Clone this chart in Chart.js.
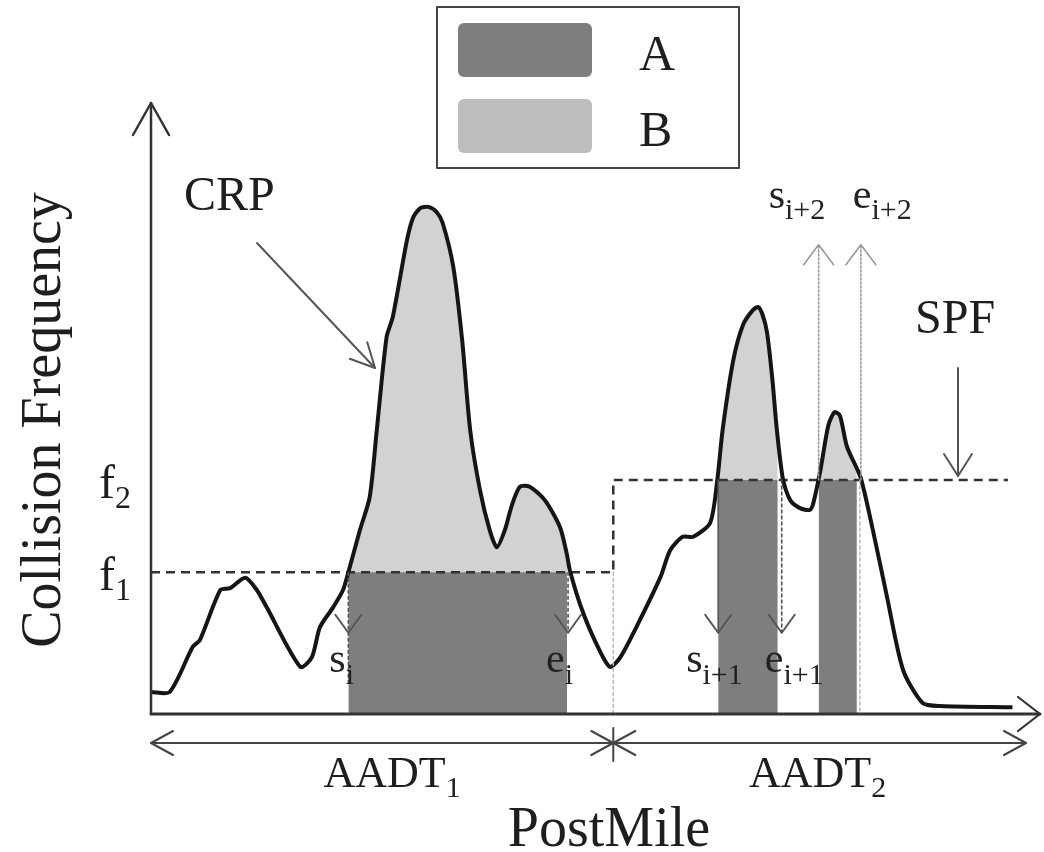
<!DOCTYPE html>
<html>
<head>
<meta charset="utf-8">
<script src="https://cdn.jsdelivr.net/npm/chart.js@4.4.1/dist/chart.umd.min.js"></script>
<style>
  body { margin: 0; background: #fff; }
  #wrap { width: 1044px; height: 852px; position: relative; }
</style>
</head>
<body>
<div id="wrap"><canvas id="crpChart"></canvas></div>
<script>
// collision rate profile (CRP)
const postMile = [0, 2.1, 4.7, 5.5, 7.8, 8.9, 10.6, 11.9, 13.0, 16.8, 18.1, 19.0, 20.5, 21.6, 22.2, 23.5, 24.6, 25.4,
  26.5, 27.2, 28.8, 29.5, 30.3, 31.2, 32.1, 32.8, 34.0, 35.0, 35.9, 37.0, 38.1, 38.9, 39.8, 40.6, 41.5, 42.6, 44.3,
  46.0, 46.8, 47.1, 48.3, 49.9, 51.6, 52.8, 55.0, 57.3, 58.4, 59.8, 61.0, 62.9, 63.7, 64.3, 65.5, 66.6, 67.7, 68.3,
  68.8, 69.3, 69.9, 70.4, 71.1, 71.9, 73.0, 74.1, 74.5, 75.3, 76.2, 76.9, 77.5, 78.3, 79.8, 81.2, 82.8, 84.6, 86.8,
  88.8, 96.9];
const collisions = [3.6, 3.6, 11.0, 12.1, 20.3, 20.6, 22.3, 20.3, 17.5, 7.7, 9.3, 14.2, 17.5, 20.3, 23.2, 30.1, 35.5, 46.5,
  61.7, 65.0, 77.6, 81.3, 82.8, 83.0, 82.2, 80.4, 73.2, 61.2, 46.5, 36.7, 30.1, 27.3, 30.1, 34.2, 37.2, 37.2, 35.0,
  30.6, 26.0, 23.6, 17.8, 12.1, 7.7, 9.3, 15.4, 22.4, 26.8, 29.0, 29.0, 31.3, 38.3, 46.5, 57.9, 63.7, 66.1, 66.6,
  65.3, 62.4, 54.7, 46.5, 38.3, 35.0, 33.7, 33.4, 34.5, 39.9, 47.3, 49.4, 48.8, 43.7, 38.8, 30.1, 19.1, 7.2, 1.8,
  1.3, 1.1];

// safety performance function (step at the AADT change)
const spfMile = [0, 52.0, 96.4];
const spfLevel = [23.2, 38.3, 38.3];

// hot spot segments: start s, end e, threshold f
const hotStart = [22.2, 63.8, 75.1];
const hotEnd = [46.8, 70.5, 79.4];
const hotLevel = [23.2, 38.3, 38.3];
const hotSub = ['i', 'i+1', 'i+2'];

const legendLabels = ['A', 'B'];
const levelLabels = ['1', '2'];
const aadtLabels = ['1', '2'];

const serif = '"Liberation Serif", "DejaVu Serif", serif';
const darkGray = '#7e7e7e';
const lightGray = '#d2d2d2';

function curveAt(x) {
  for (let i = 1; i < postMile.length; i++) {
    if (x <= postMile[i]) {
      const t = (x - postMile[i - 1]) / (postMile[i] - postMile[i - 1]);
      return collisions[i - 1] + t * (collisions[i] - collisions[i - 1]);
    }
  }
  return collisions[collisions.length - 1];
}

function sliceCurve(x0, x1) {
  const pts = [{ x: x0, y: curveAt(x0) }];
  postMile.forEach((x, i) => {
    if (x > x0 && x < x1) pts.push({ x: x, y: collisions[i] });
  });
  pts.push({ x: x1, y: curveAt(x1) });
  return pts;
}

const datasets = [
  {
    label: 'CRP',
    data: postMile.map((x, i) => ({ x: x, y: collisions[i] })),
    borderColor: '#151515',
    borderWidth: 4,
    tension: 0.25,
    pointRadius: 0,
    fill: false,
    order: 0,
    clip: 6,
  },
  {
    label: 'SPF',
    data: spfMile.map((x, i) => ({ x: x, y: spfLevel[i] })),
    borderColor: '#333',
    borderWidth: 2.5,
    borderDash: [9, 6],
    stepped: 'before',
    pointRadius: 0,
    fill: false,
    order: 1,
  },
];

hotStart.forEach((s, i) => {
  // A: part below the threshold
  datasets.push({
    label: 'A' + i,
    data: [{ x: s, y: hotLevel[i] }, { x: hotEnd[i], y: hotLevel[i] }],
    borderWidth: 0,
    pointRadius: 0,
    backgroundColor: darkGray,
    fill: 'origin',
    order: 2,
  });
  // B: part of the profile above the threshold
  datasets.push({
    label: 'B' + i,
    data: sliceCurve(s, hotEnd[i]),
    borderWidth: 0,
    pointRadius: 0,
    tension: 0.25,
    backgroundColor: lightGray,
    fill: { value: hotLevel[i] },
    order: 3,
  });
});

function arrowHead(ctx, x, y, angle, len, half) {
  const bx = x - len * Math.cos(angle);
  const by = y - len * Math.sin(angle);
  const nx = -Math.sin(angle) * half;
  const ny = Math.cos(angle) * half;
  ctx.beginPath();
  ctx.moveTo(bx + nx, by + ny);
  ctx.lineTo(x, y);
  ctx.lineTo(bx - nx, by - ny);
  ctx.stroke();
}

function line(ctx, x0, y0, x1, y1) {
  ctx.beginPath();
  ctx.moveTo(x0, y0);
  ctx.lineTo(x1, y1);
  ctx.stroke();
}

function subText(ctx, base, sub, x, y, size, subSize, drop) {
  ctx.font = size + 'px ' + serif;
  ctx.textAlign = 'left';
  ctx.textBaseline = 'alphabetic';
  ctx.fillText(base, x, y);
  const w = ctx.measureText(base).width;
  ctx.font = subSize + 'px ' + serif;
  ctx.fillText(sub, x + w, y + drop);
  return w + ctx.measureText(sub).width;
}

const decor = {
  id: 'decor',
  afterDraw(chart) {
    const ctx = chart.ctx;
    const xs = chart.scales.x;
    const ys = chart.scales.y;
    const area = chart.chartArea;
    const L = area.left, B = area.bottom;
    ctx.save();
    ctx.lineCap = 'round';
    ctx.lineJoin = 'round';

    // thin dotted guides
    ctx.strokeStyle = '#b8b8b8';
    ctx.lineWidth = 1.5;
    ctx.setLineDash([3, 3]);
    const stepX = xs.getPixelForValue(spfMile[1]);
    line(ctx, stepX, ys.getPixelForValue(spfLevel[0]), stepX, B);
    const e3 = xs.getPixelForValue(hotEnd[2]) + 3;
    line(ctx, e3, ys.getPixelForValue(hotLevel[2]), e3, B);

    // axes with arrows
    ctx.setLineDash([]);
    ctx.strokeStyle = '#333';
    ctx.lineWidth = 2.5;
    line(ctx, L, B, L, area.top);
    arrowHead(ctx, L, area.top, -Math.PI / 2, 32, 18);
    ctx.lineWidth = 3;
    line(ctx, L, B, area.right, B);
    ctx.lineWidth = 2.2;
    arrowHead(ctx, area.right, B, 0, 22, 17);

    // AADT span arrows
    const ay = B + 29;
    ctx.lineWidth = 2;
    ctx.strokeStyle = '#444';
    const aEnd = xs.getPixelForValue(spfMile[2]) + 18;
    line(ctx, L, ay, aEnd, ay);
    arrowHead(ctx, L, ay, Math.PI, 22, 12);
    arrowHead(ctx, stepX, ay, 0, 22, 12);
    arrowHead(ctx, stepX, ay, Math.PI, 22, 12);
    arrowHead(ctx, aEnd, ay, 0, 22, 12);
    line(ctx, stepX, ay - 15, stepX, ay + 18);

    // start / end arrows of hot spots
    const downTip = ys.getPixelForValue(13.3);
    const upTip = ys.getPixelForValue(76.8);
    ctx.fillStyle = '#222';
    hotStart.forEach((s, i) => {
      const sx = xs.getPixelForValue(s);
      const ex = xs.getPixelForValue(hotEnd[i]) + (i === 0 ? 1 : 4);
      const top = ys.getPixelForValue(hotLevel[i]);
      ctx.strokeStyle = '#555';
      ctx.lineWidth = 1.6;
      if (i < 2) {
        ctx.setLineDash(i === 0 ? [3, 3] : []);
        line(ctx, sx, top, sx, i === 0 ? B - 30 : downTip);
        ctx.setLineDash([3, 3]);
        line(ctx, ex, top, ex, downTip);
        ctx.setLineDash([]);
        ctx.lineWidth = 2;
        arrowHead(ctx, sx, downTip, Math.PI / 2, 18, 13);
        arrowHead(ctx, ex, downTip, Math.PI / 2, 18, 13);
        subText(ctx, 's', hotSub[i], sx - (i === 0 ? 19 : 32), downTip + 39, 42, 30, 12);
        subText(ctx, 'e', hotSub[i], ex - (i === 0 ? 22 : 17), downTip + 39, 42, 30, 12);
      } else {
        ctx.strokeStyle = '#999';
        ctx.setLineDash([2, 2]);
        line(ctx, sx, top, sx, upTip);
        line(ctx, ex, top, ex, upTip);
        ctx.setLineDash([]);
        ctx.lineWidth = 1.6;
        arrowHead(ctx, sx, upTip, -Math.PI / 2, 20, 15);
        arrowHead(ctx, ex, upTip, -Math.PI / 2, 20, 15);
        subText(ctx, 's', hotSub[i], sx - 50, upTip - 37, 42, 30, 11);
        subText(ctx, 'e', hotSub[i], ex - 8, upTip - 37, 42, 30, 11);
      }
    });

    // CRP pointer
    ctx.strokeStyle = '#555';
    ctx.lineWidth = 2;
    line(ctx, 257, 243, 375, 368);
    arrowHead(ctx, 375, 368, Math.atan2(125, 118), 24, 12);
    // SPF pointer
    const spfX = 958;
    line(ctx, spfX, 368, spfX, ys.getPixelForValue(spfLevel[2]) - 4);
    arrowHead(ctx, spfX, ys.getPixelForValue(spfLevel[2]) - 4, Math.PI / 2, 22, 14);

    // texts
    ctx.fillStyle = '#1e1e1e';
    ctx.font = '48px ' + serif;
    ctx.textAlign = 'left';
    ctx.fillText('CRP', 184, 210);
    ctx.fillText('SPF', 915, 333);

    [spfLevel[0], spfLevel[1]].forEach((lv, i) => {
      subText(ctx, 'f', levelLabels[i], 99, ys.getPixelForValue(lv) + 18, 48, 32, 10);
    });

    const aadtMid = [(L + stepX) / 2 + 10, (stepX + aEnd) / 2 - 2];
    aadtMid.forEach((mx, i) => {
      ctx.font = '44px ' + serif;
      const w = ctx.measureText('AADT').width;
      ctx.font = '30px ' + serif;
      const sw = ctx.measureText(aadtLabels[i]).width;
      subText(ctx, 'AADT', aadtLabels[i], mx - (w + sw) / 2, B + 73, 44, 30, 10);
    });

    ctx.font = '56px ' + serif;
    ctx.textAlign = 'center';
    ctx.fillText('PostMile', 609, 846);

    ctx.save();
    ctx.translate(60, 420);
    ctx.rotate(-Math.PI / 2);
    ctx.fillText('Collision Frequency', 0, 0);
    ctx.restore();

    // legend
    ctx.strokeStyle = '#444';
    ctx.lineWidth = 2;
    ctx.strokeRect(437, 7, 302, 161);
    const sw = [darkGray, '#bdbdbd'];
    const sy = [23, 99];
    legendLabels.forEach((lab, i) => {
      ctx.fillStyle = sw[i];
      ctx.beginPath();
      ctx.roundRect(458, sy[i], 134, 54, 6);
      ctx.fill();
      ctx.fillStyle = '#1e1e1e';
      ctx.font = '50px ' + serif;
      ctx.textAlign = 'left';
      ctx.fillText(lab, 639, sy[i] + 47);
    });
    ctx.restore();
  },
};

new Chart(document.getElementById('crpChart'), {
  type: 'line',
  data: { datasets: datasets },
  options: {
    responsive: true,
    maintainAspectRatio: false,
    animation: false,
    layout: { padding: { left: 151, right: 4, top: 103, bottom: 138 } },
    plugins: { legend: { display: false }, tooltip: { enabled: false } },
    scales: {
      x: { type: 'linear', min: 0, max: 100, display: false },
      y: { type: 'linear', min: 0, max: 100, display: false },
    },
  },
  plugins: [decor],
});
</script>
</body>
</html>
